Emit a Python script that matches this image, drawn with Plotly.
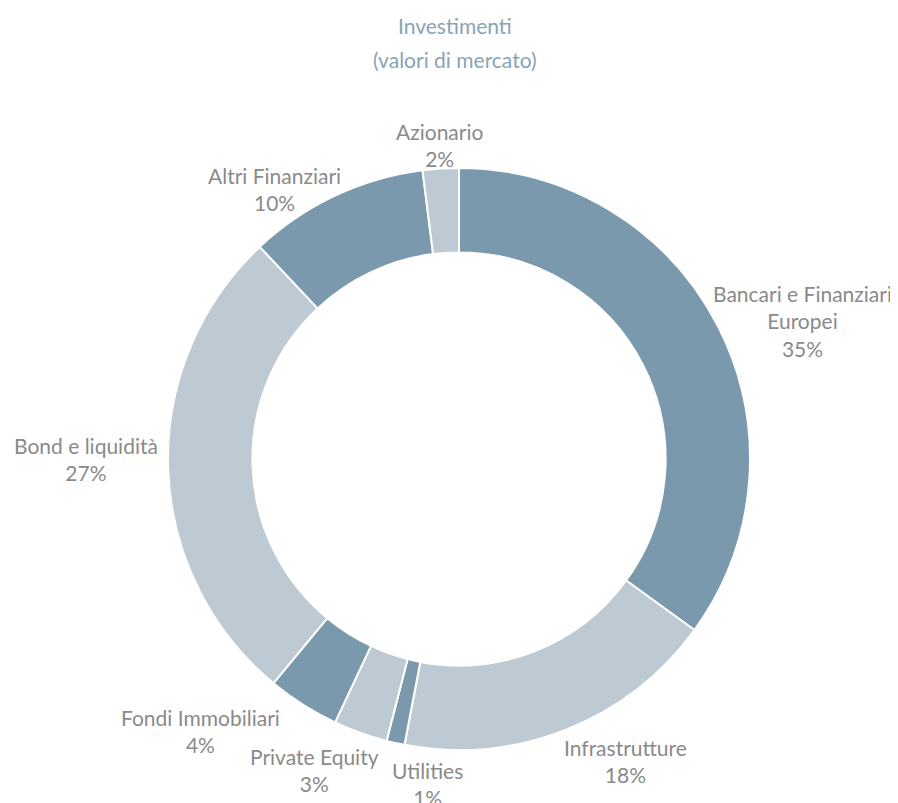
import math
import plotly.graph_objects as go

categories = ["Bancari e Finanziari<br>Europei", "Infrastrutture", "Utilities", "Private Equity",
              "Fondi Immobiliari", "Bond e liquidità", "Altri Finanziari", "Azionario"]
values = [35, 18, 1, 3, 4, 27, 10, 2]

# label placement style (angular nudge in degrees, distance from centre in px)
label_angle_nudge = [5.1, -7.2, -7.0, 5.2, 11.2, 1.8, -9.1, 0.1]
label_distance = [370, 345, 327, 343, 375, 373, 327, 315]

dark = "#7b99ac"
light = "#bdcad4"
colors = [dark, light, dark, light, dark, light, dark, light]

W, H = 898, 803
OX, OY = 8, 9            # page offset of the plot inside the browser window
CX, CY, R = 459 - OX, 460 - OY, 291
FONT = "Lato"

fig = go.Figure(go.Pie(
    labels=categories,
    values=values,
    sort=False,
    direction="clockwise",
    rotation=0,
    hole=0.71,
    marker=dict(colors=colors, line=dict(color="white", width=2)),
    textinfo="none",
    hoverinfo="label+percent",
    domain=dict(x=[(CX - R) / W, (CX + R) / W],
                y=[(H - CY - R) / H, (H - CY + R) / H]),
    showlegend=False,
))

total = sum(values)
cum = 0.0
for lab, v, nud, dist in zip(categories, values, label_angle_nudge, label_distance):
    mid = (cum + v / 2) / total * 360.0
    cum += v
    th = math.radians(mid + nud)
    px = CX + dist * math.sin(th)
    py = CY - dist * math.cos(th)
    pct = round(v / total * 100)
    fig.add_annotation(
        text=f"{lab}<br>{pct}%", x=px / W, y=1 - py / H, xref="paper", yref="paper",
        xanchor="center", yanchor="middle", align="center", showarrow=False,
        font=dict(family=FONT, size=21, color="#8a8a8a"),
    )

for txt, ty in [("Investimenti", 27), ("(valori di mercato)", 60)]:
    fig.add_annotation(
        text=txt, x=(455 - OX) / W, y=1 - (ty - OY) / H, xref="paper", yref="paper",
        xanchor="center", yanchor="middle", showarrow=False,
        font=dict(family=FONT, size=21, color="#88a3b5"),
    )

fig.update_layout(
    width=W, height=H,
    margin=dict(l=0, r=0, t=0, b=0),
    paper_bgcolor="white", plot_bgcolor="white",
)

fig.write_html("out.html")
